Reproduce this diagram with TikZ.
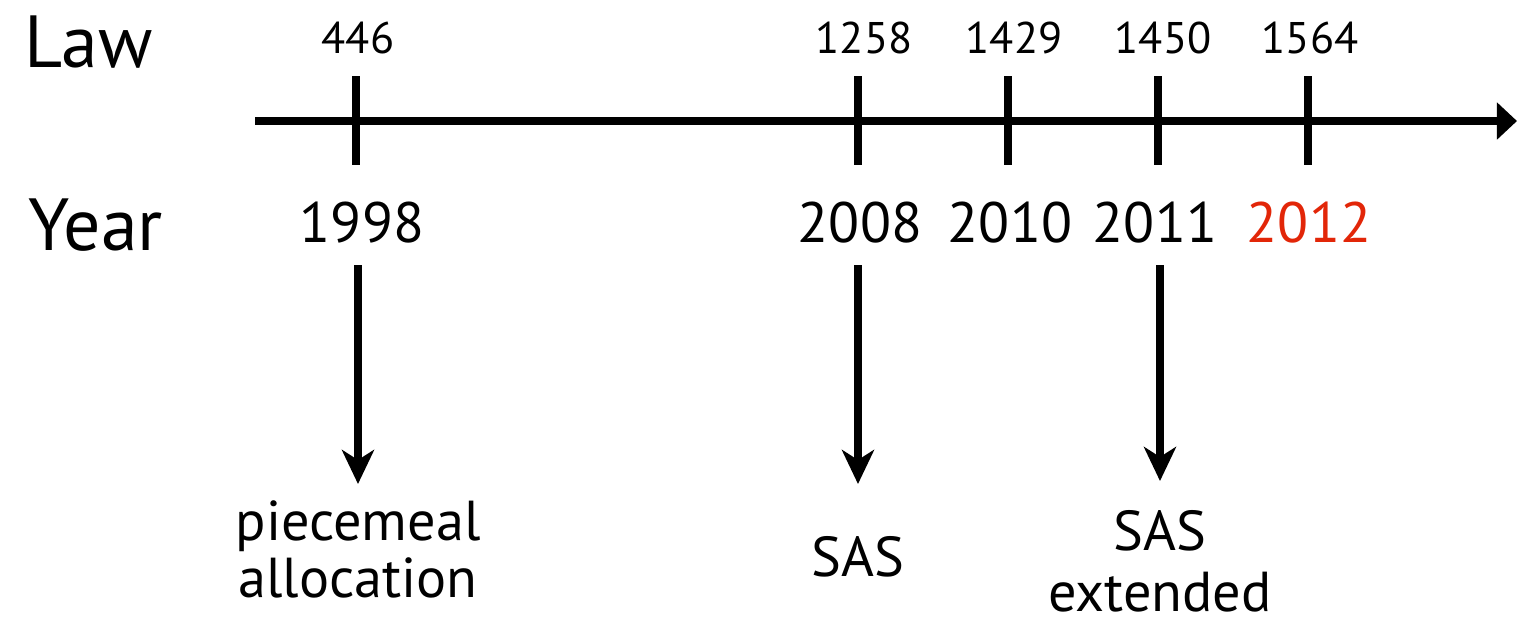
\documentclass[tikz,border=0pt]{standalone}
\usepackage{fontspec}
\setmainfont{PT Sans}
\usetikzlibrary{arrows.meta}
\definecolor{nowred}{RGB}{226,38,8}
\tikzset{
  big/.style={font=\fontsize{21}{25}\selectfont, inner sep=0pt, anchor=base west},
  lawnum/.style={font=\fontsize{12.6}{15}\selectfont, inner sep=0pt, anchor=base},
  yearnum/.style={font=\fontsize{16.2}{20}\selectfont, inner sep=0pt, anchor=base},
  evlabel/.style={font=\fontsize{16}{20}\selectfont, inner sep=0pt, anchor=base, text depth=0pt},
  axisline/.style={line width=0.08cm, -{Triangle[length=0.2cm,width=0.36cm]}},
  tickline/.style={line width=0.08cm},
  evarrow/.style={line width=0.08cm, -{Stealth[length=0.34cm,width=0.32cm,inset=0.1cm]}}
}
\begin{document}
\begin{tikzpicture}[x=0.01cm,y=-0.01cm]
\useasboundingbox (0,0) rectangle (1517,623);
% row labels
\node[big] (law) at (24,67) {Law};
\node[big] (year) at (28,250) {Year};
% axis
\coordinate (axstart) at (255,121);
\coordinate (axend) at (1517,121);
\draw[axisline] (axstart) -- (axend);
% ticks
\foreach \n/\x in {t1/356,t2/858,t3/1008,t4/1158,t5/1308}{
  \coordinate (\n top) at (\x,76);
  \coordinate (\n bot) at (\x,165);
  \draw[tickline] (\n top) -- (\n bot);
}
% law numbers
\node[lawnum] (l446) at (358,53) {446};
\node[lawnum] (l1258) at (864,53) {1258};
\node[lawnum] (l1429) at (1014,53) {1429};
\node[lawnum] (l1450) at (1163,53) {1450};
\node[lawnum] (l1564) at (1310,53) {1564};
% years
\node[yearnum] (y1998) at (362,242) {1998};
\node[yearnum] (y2008) at (860,242) {2008};
\node[yearnum] (y2010) at (1010,242) {2010};
\node[yearnum] (y2011) at (1155,242) {2011};
\node[yearnum, text=nowred] (y2012) at (1309,242) {2012};
% event labels
\node[evlabel] (pm1) at (358,540) {piecemeal};
\node[evlabel] (pm2) at (358,597) {allocation};
\node[evlabel] (sas1) at (858,576) {SAS};
\node[evlabel] (sas2) at (1160,550) {SAS};
\node[evlabel] (ext) at (1160,611) {extended};
% arrows
\coordinate (a1s) at (358,265); \coordinate (a1e) at (358,484);
\coordinate (a2s) at (858,265); \coordinate (a2e) at (858,484);
\coordinate (a3s) at (1160,265); \coordinate (a3e) at (1160,481);
\draw[evarrow] (a1s) -- (a1e);
\draw[evarrow] (a2s) -- (a2e);
\draw[evarrow] (a3s) -- (a3e);
\end{tikzpicture}
\end{document}
